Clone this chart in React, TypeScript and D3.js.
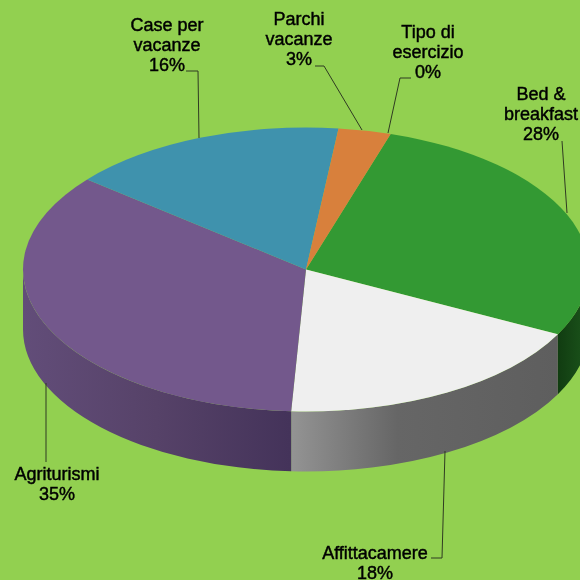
import React from "react";
import * as d3 from "d3";

const categories = ["Tipo di esercizio", "Bed & breakfast", "Affittacamere", "Agriturismi", "Case per vacanze", "Parchi vacanze"];
const values = [0, 27.7, 18.3, 35.1, 15.9, 3];
const sliceColors = ["#4f81bd", "#339933", "#efefef", "#73588c", "#3f92ad", "#d8803c"];

const labelLines = [
  ["Tipo di", "esercizio", "0%"],
  ["Bed &", "breakfast", "28%"],
  ["Affittacamere", "18%"],
  ["Agriturismi", "35%"],
  ["Case per", "vacanze", "16%"],
  ["Parchi", "vacanze", "3%"],
];
const labelPos = [
  [428, 38], [541, 100], [375, 559], [57, 480], [167, 31], [299, 25],
];
const leaders = [
  [[411, 78], [400, 78], [388, 133]],
  [[562, 141], [567, 213]],
  [[445, 451], [442, 558], [431, 558]],
  [[46, 383], [46, 462]],
  [[186, 71], [198, 71], [199, 138]],
  [[315, 66], [324, 66], [362, 130]],
];

const W = 580, H = 580;
const cx = 306, cy = 269.5, rx = 283, ry = 142, depth = 60;
const start = (17.4 * Math.PI) / 180;

const pie = d3.pie<number>().sort(null).startAngle(start).endAngle(start + 2 * Math.PI);
const arcs = pie(values);
const arcGen = d3.arc<d3.PieArcDatum<number>>().innerRadius(0).outerRadius(rx);

const pt = (a: number, dy = 0): [number, number] => [cx + rx * Math.sin(a), cy - ry * Math.cos(a) + dy];

function wall(a0: number, a1: number) {
  const lo = Math.max(a0, Math.PI / 2), hi = Math.min(a1, (3 * Math.PI) / 2);
  if (hi <= lo) return null;
  const [x0, y0] = pt(lo), [x1, y1] = pt(hi);
  const [x2, y2] = pt(hi, depth), [x3, y3] = pt(lo, depth);
  return `M${x0},${y0}A${rx},${ry} 0 0 1 ${x1},${y1}L${x2},${y2}A${rx},${ry} 0 0 0 ${x3},${y3}Z`;
}

const grads: Record<number, [number, string][]> = {
  1: [[0, "#113c11"], [1, "#1c561c"]],
  2: [[0, "#949494"], [0.4, "#666666"], [1, "#5e5e5e"]],
  3: [[0, "#44335a"], [0.5, "#564268"], [1, "#624d79"]],
};
const gradX: Record<number, [number, number]> = { 1: [558, 590], 2: [290, 558], 3: [290, 23] };

export default function App() {
  return (
    <svg width={W} height={H} viewBox={`0 0 ${W} ${H}`} style={{ position: "fixed", left: 0, top: 0, background: "#92d050" }}>
      <defs>
        {Object.keys(grads).map((k) => (
          <linearGradient key={k} id={`g${k}`} gradientUnits="userSpaceOnUse" x1={gradX[+k][0]} x2={gradX[+k][1]} y1={0} y2={0}>
            {grads[+k].map(([o, c]) => <stop key={o} offset={o} stopColor={c} />)}
          </linearGradient>
        ))}
        <filter id="soft" x="-5%" y="-5%" width="110%" height="110%"><feGaussianBlur stdDeviation="0.35" /></filter>
      </defs>
      {arcs.map((d, i) => {
        const p = wall(d.startAngle, d.endAngle);
        return p && <path key={i} d={p} fill={`url(#g${i})`} />;
      })}
      <g transform={`translate(${cx},${cy}) scale(1,${ry / rx})`}>
        {arcs.map((d, i) => d.endAngle > d.startAngle && <path key={i} d={arcGen(d) || ""} fill={sliceColors[i]} />)}
      </g>
      {leaders.map((l, i) => (
        <path key={i} d={d3.line()(l as [number, number][]) || ""} fill="none" stroke="#2f3a22" strokeWidth={1} />
      ))}
      <g filter="url(#soft)" fontFamily="'Liberation Sans', Arial, sans-serif" fontSize={18} fill="#000" stroke="#000" strokeWidth={0.45} textAnchor="middle">
        {labelLines.map((lines, i) =>
          lines.map((t, j) => (
            <text key={j} x={labelPos[i][0]} y={labelPos[i][1] + j * 20}>{t}</text>
          ))
        )}
      </g>
    </svg>
  );
}
